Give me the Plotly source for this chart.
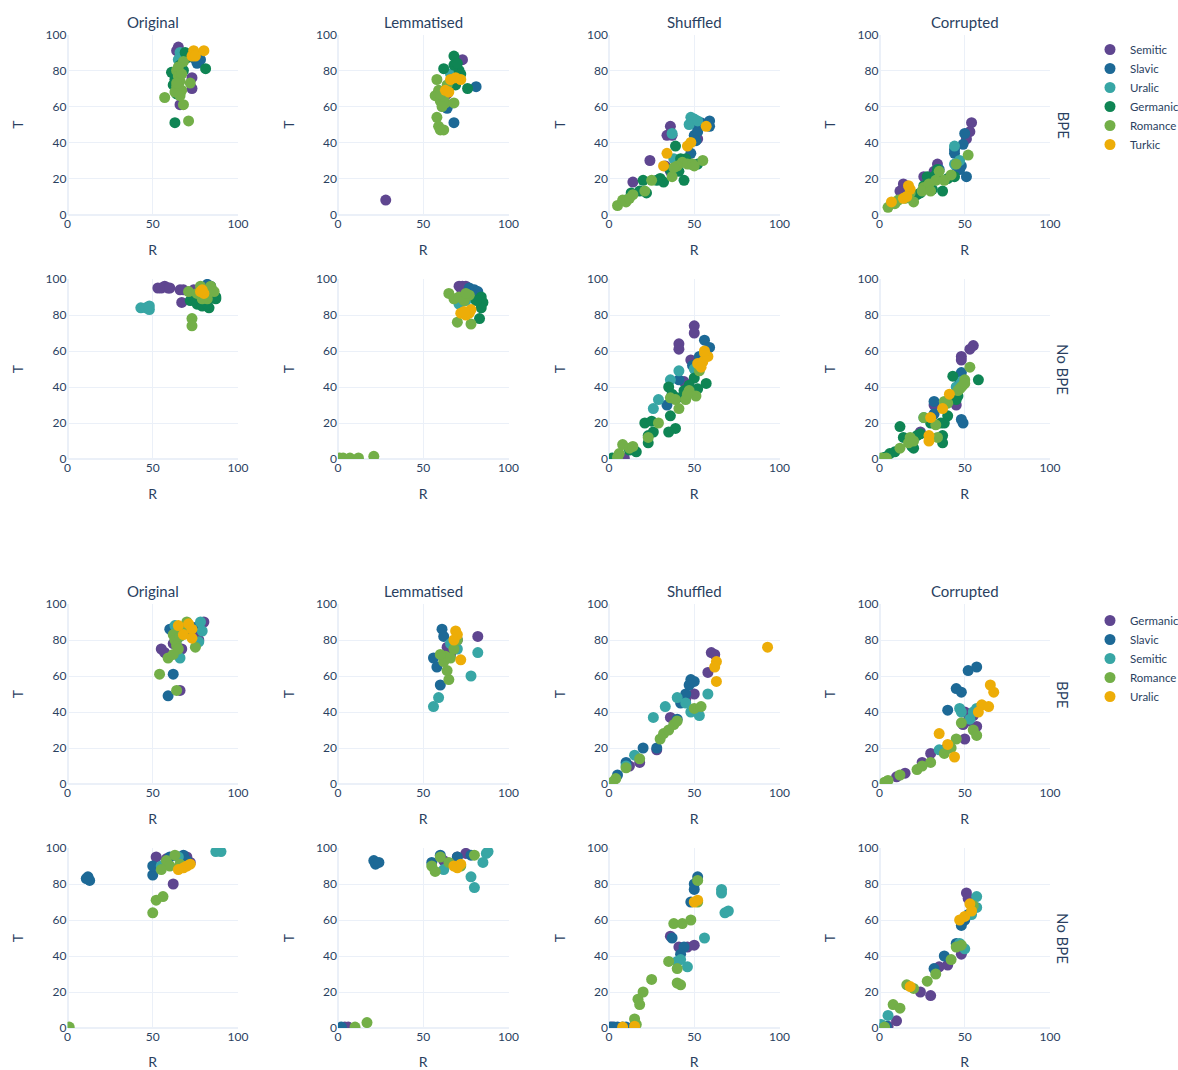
import plotly.graph_objects as go

# ---------------------------------------------------------------------------
# Data: (R, T) pairs per language family, one dict per facet panel.
# Top block (families: Semitic, Slavic, Uralic, Germanic, Romance, Turkic)
# ---------------------------------------------------------------------------
COLUMNS = ["Original", "Lemmatised", "Shuffled", "Corrupted"]
ROWS = ["BPE", "No BPE"]

TOP_FAMILIES = ["Semitic", "Slavic", "Uralic", "Germanic", "Romance", "Turkic"]
BOTTOM_FAMILIES = ["Germanic", "Slavic", "Semitic", "Romance", "Uralic"]

top_bpe_original = {
    "Semitic": [(65, 93), (64, 91), (73, 76), (73, 70), (66, 61)],
    "Slavic": [(76, 84), (78, 86), (74, 87), (77, 85)],
    "Uralic": [(66, 90), (67, 88), (65, 86)],
    "Germanic": [(69, 90), (81, 81), (61, 79), (63, 51), (64, 67), (70, 87), (62, 72), (66, 83), (63, 75), (68, 80), (65, 70)],
    "Romance": [(57, 65), (71, 52), (68, 61), (72, 73), (68, 85), (64, 80), (65, 77), (66, 74), (64, 71), (67, 69), (63, 68), (66, 66), (65, 82), (67, 78), (64, 73)],
    "Turkic": [(74, 91), (80, 91), (73, 88), (75, 88)],
}
top_bpe_lemmatised = {
    "Semitic": [(28, 8), (73, 86), (64, 67)],
    "Slavic": [(81, 71), (68, 51), (62, 60), (64, 59)],
    "Uralic": [(66, 78)],
    "Germanic": [(68, 88), (62, 81), (76, 70), (71, 80), (70, 76), (68, 83), (72, 78), (69, 72), (66, 74), (70, 84)],
    "Romance": [(58, 75), (58, 54), (59, 49), (60, 47), (62, 47), (57, 66), (59, 69), (60, 63), (62, 65), (63, 62), (68, 62), (64, 72), (61, 60), (60, 67)],
    "Turkic": [(66, 75), (69, 76), (72, 75), (63, 69), (65, 68)],
}
top_bpe_shuffled = {
    "Semitic": [(14, 18), (24, 30), (36, 49), (34, 44), (37, 44), (52, 42), (33, 27), (36, 24)],
    "Slavic": [(59, 52), (59, 49), (52, 48), (50, 44), (52, 46), (51, 41), (48, 34), (56, 50), (54, 51)],
    "Uralic": [(48, 54), (50, 53), (47, 50), (37, 45), (38, 31), (52, 52)],
    "Germanic": [(39, 38), (42, 31), (30, 20), (32, 18), (20, 19), (22, 12), (18, 13), (13, 12), (10, 8), (44, 19), (41, 24), (36, 25), (48, 28), (52, 28), (28, 19), (45, 31)],
    "Romance": [(5, 5), (8, 8), (10, 7), (12, 9), (14, 11), (21, 13), (25, 19), (37, 21), (43, 29), (46, 28), (49, 28), (55, 30), (40, 27), (38, 26), (50, 27)],
    "Turkic": [(34, 34), (32, 27), (46, 38), (48, 40), (57, 49)],
}
top_bpe_corrupted = {
    "Semitic": [(54, 51), (53, 46), (51, 42), (14, 17), (12, 13), (34, 28), (26, 21), (32, 24)],
    "Slavic": [(50, 45), (49, 39), (44, 36), (44, 34), (51, 21), (45, 27), (47, 25), (48, 27), (35, 25)],
    "Uralic": [(44, 38), (47, 30), (44, 28)],
    "Germanic": [(28, 21), (30, 18), (33, 22), (37, 13), (24, 12), (40, 20), (22, 11), (26, 16), (34, 25), (31, 14), (44, 21)],
    "Romance": [(5, 4), (9, 6), (11, 8), (18, 12), (20, 7), (26, 15), (29, 17), (33, 19), (35, 24), (38, 19), (42, 22), (45, 28), (52, 33), (25, 13), (30, 13), (15, 9)],
    "Turkic": [(7, 7), (17, 16), (18, 14), (14, 9), (16, 10)],
}
top_nobpe_original = {
    "Semitic": [(53, 95), (55, 95), (57, 96), (59, 95), (60, 95), (66, 94), (68, 94), (67, 87), (74, 94)],
    "Slavic": [(82, 97), (84, 96)],
    "Uralic": [(43, 84), (46, 84), (48, 83), (48, 85)],
    "Germanic": [(72, 88), (76, 86), (79, 85), (83, 84), (87, 90), (80, 90), (87, 89), (75, 89), (82, 86)],
    "Romance": [(71, 93), (73, 78), (73, 74), (76, 92), (78, 96), (84, 96), (86, 93), (80, 91), (82, 89), (79, 89)],
    "Turkic": [(78, 93), (80, 92), (79, 94)],
}
top_nobpe_lemmatised = {
    "Semitic": [(71, 96), (73, 96), (75, 96), (72, 95)],
    "Slavic": [(77, 95), (80, 94), (82, 93), (78, 92)],
    "Uralic": [(71, 86), (75, 88)],
    "Germanic": [(84, 90), (85, 87), (84, 84), (83, 78), (81, 88)],
    "Romance": [(1, 0.5), (3, 0.5), (7, 0.5), (12, 0.6), (21, 1.5), (70, 76), (78, 75), (65, 92), (68, 89), (71, 90), (77, 91), (74, 88), (75, 92)],
    "Turkic": [(72, 81), (75, 80), (78, 83), (77, 81), (74, 82)],
}
top_nobpe_shuffled = {
    "Semitic": [(50, 74), (50, 70), (41, 64), (41, 61), (48, 55), (44, 43), (9, 0.5)],
    "Slavic": [(56, 66), (59, 62), (41, 44), (34, 30), (49, 52), (53, 57)],
    "Uralic": [(41, 49), (36, 44), (29, 33), (26, 28), (50, 50)],
    "Germanic": [(35, 40), (37, 36), (57, 42), (52, 39), (50, 45), (47, 41), (40, 34), (36, 24), (39, 17), (35, 15), (21, 20), (25, 21), (26, 15), (23, 13), (23, 9), (16, 4), (2, 0.5), (12, 5), (44, 38)],
    "Romance": [(8, 8), (6, 3), (5, 1), (12, 6), (14, 7), (23, 12), (29, 20), (36, 34), (39, 33), (41, 28), (45, 33), (47, 38), (51, 35), (53, 49), (46, 36)],
    "Turkic": [(52, 53), (55, 54), (56, 59), (58, 57), (54, 51), (56, 60)],
}
top_nobpe_corrupted = {
    "Semitic": [(55, 63), (53, 61), (48, 57), (48, 55), (45, 30), (32, 30), (24, 15)],
    "Slavic": [(48, 48), (32, 32), (32, 25), (48, 22), (49, 20), (47, 42), (46, 40)],
    "Uralic": [(45, 40), (26, 23), (48, 43)],
    "Germanic": [(58, 44), (43, 46), (46, 35), (45, 33), (40, 24), (38, 20), (36, 20), (37, 13), (37, 9), (12, 18), (14, 12), (19, 7), (20, 6), (22, 13), (24, 14), (6, 3), (3, 1), (9, 4), (30, 20)],
    "Romance": [(53, 51), (50, 44), (49, 41), (48, 40), (46, 38), (47, 39), (40, 31), (38, 32), (33, 19), (34, 12), (26, 23), (18, 12), (17, 9), (20, 10), (12, 6), (4, 0.5), (1, 0.5), (50, 42)],
    "Turkic": [(41, 36), (37, 28), (30, 23), (29, 13), (29, 10)],
}

# Bottom block (families: Germanic, Slavic, Semitic, Romance, Uralic)
bot_bpe_original = {
    "Germanic": [(80, 90), (55, 75), (57, 73), (66, 52), (67, 75), (73, 82), (76, 84), (77, 80), (62, 78)],
    "Slavic": [(60, 86), (62, 61), (59, 49), (75, 87), (70, 84), (73, 87), (64, 80)],
    "Semitic": [(78, 90), (79, 85), (77, 79), (66, 70), (63, 88), (68, 86)],
    "Romance": [(54, 61), (59, 70), (64, 52), (75, 76), (70, 90), (62, 83), (63, 80), (64, 77), (65, 75), (62, 72), (66, 82), (67, 85)],
    "Uralic": [(65, 88), (71, 89), (73, 86), (68, 83), (73, 81)],
}
bot_bpe_lemmatised = {
    "Germanic": [(82, 82), (70, 80), (64, 76), (66, 72)],
    "Slavic": [(61, 86), (62, 82), (60, 55), (56, 70), (58, 65)],
    "Semitic": [(82, 73), (78, 60), (59, 48), (56, 43), (70, 75), (66, 78)],
    "Romance": [(65, 58), (64, 63), (62, 68), (68, 75), (70, 80), (63, 71), (66, 70), (60, 72)],
    "Uralic": [(69, 85), (72, 69), (70, 83), (68, 80)],
}
bot_bpe_shuffled = {
    "Germanic": [(60, 73), (62, 72), (58, 62), (50, 50), (45, 47), (36, 37), (28, 19), (18, 12), (12, 10), (52, 40)],
    "Slavic": [(48, 58), (47, 55), (45, 50), (50, 57), (42, 45), (40, 36), (20, 20), (10, 12), (5, 5), (28, 20)],
    "Semitic": [(26, 37), (33, 43), (40, 48), (45, 45), (48, 40), (53, 38), (58, 50), (15, 16), (10, 10)],
    "Romance": [(30, 25), (32, 28), (35, 30), (38, 33), (40, 35), (50, 42), (54, 43), (18, 14), (4, 3), (2, 1), (10, 9)],
    "Uralic": [(93, 76), (63, 68), (62, 65), (63, 57)],
}
bot_bpe_corrupted = {
    "Germanic": [(50, 40), (52, 35), (50, 25), (55, 38), (57, 32), (49, 33), (30, 17), (38, 19), (25, 12), (15, 6), (10, 4)],
    "Slavic": [(52, 63), (57, 65), (45, 53), (48, 51), (40, 41)],
    "Semitic": [(47, 42), (48, 40), (53, 36), (57, 42), (55, 40), (35, 19)],
    "Romance": [(55, 30), (57, 27), (45, 25), (38, 17), (30, 12), (22, 8), (12, 5), (5, 2), (3, 1), (48, 34), (42, 20), (25, 10)],
    "Uralic": [(65, 55), (67, 51), (60, 44), (64, 43), (35, 28), (44, 15), (40, 22), (58, 40)],
}
bot_nobpe_original = {
    "Germanic": [(62, 80), (70, 95), (58, 94), (72, 92), (52, 95)],
    "Slavic": [(12, 84), (13, 82), (11, 83), (50, 85), (50, 90), (60, 95), (68, 96), (70, 93)],
    "Semitic": [(87, 98), (90, 98), (55, 90), (65, 95)],
    "Romance": [(1, 0.5), (50, 64), (52, 71), (56, 73), (58, 93), (60, 90), (63, 96), (66, 91), (55, 88)],
    "Uralic": [(70, 90), (68, 89), (72, 91), (65, 88)],
}
bot_nobpe_lemmatised = {
    "Germanic": [(4, 0.5), (6, 0.5), (62, 93), (70, 95), (75, 97)],
    "Slavic": [(21, 93), (22, 91), (24, 92), (55, 92), (60, 96), (70, 95), (78, 96), (2, 0.5)],
    "Semitic": [(87, 97), (88, 98), (78, 84), (80, 78), (85, 92), (62, 88)],
    "Romance": [(17, 3), (10, 0.5), (55, 90), (60, 95), (57, 87), (65, 92), (72, 90), (80, 96)],
    "Uralic": [(68, 90), (70, 89), (72, 91)],
}
bot_nobpe_shuffled = {
    "Germanic": [(2, 0.5), (14, 0.5), (36, 51), (46, 45), (50, 46), (41, 45)],
    "Slavic": [(1, 0.5), (3, 0.5), (5, 0.5), (8, 0.5), (10, 0.5), (50, 80), (50, 77), (52, 84), (48, 70), (44, 45), (42, 41), (37, 50)],
    "Semitic": [(66, 77), (66, 75), (68, 64), (70, 65), (56, 50), (40, 37), (46, 34), (42, 38)],
    "Romance": [(17, 16), (18, 13), (20, 20), (25, 27), (35, 37), (38, 58), (43, 58), (48, 60), (52, 82), (40, 25), (42, 24), (52, 70), (40, 33), (15, 5), (16, 2)],
    "Uralic": [(52, 71), (50, 70), (8, 0.5), (15, 1)],
}
bot_nobpe_corrupted = {
    "Germanic": [(51, 75), (52, 72), (48, 41), (35, 34), (30, 18), (24, 20), (10, 4), (5, 1), (40, 35)],
    "Slavic": [(50, 60), (48, 57), (52, 63), (45, 47), (38, 40), (32, 33), (2, 0.5), (4, 1)],
    "Semitic": [(57, 73), (57, 67), (54, 63), (47, 47), (50, 44), (1, 2), (5, 7)],
    "Romance": [(48, 46), (45, 45), (8, 13), (12, 11), (16, 24), (20, 22), (28, 26), (33, 30), (42, 38), (55, 68), (3, 0.5)],
    "Uralic": [(50, 62), (53, 69), (47, 60), (54, 65), (18, 23)],
}

# ---------------------------------------------------------------------------
# Styling
# ---------------------------------------------------------------------------
PRISM = {
    "purple": "rgb(95, 70, 144)",
    "blue": "rgb(29, 105, 150)",
    "teal": "rgb(56, 166, 165)",
    "green": "rgb(15, 133, 84)",
    "lightgreen": "rgb(115, 175, 72)",
    "orange": "rgb(237, 173, 8)",
}
TOP_COLORS = {
    "Semitic": PRISM["purple"], "Slavic": PRISM["blue"], "Uralic": PRISM["teal"],
    "Germanic": PRISM["green"], "Romance": PRISM["lightgreen"], "Turkic": PRISM["orange"],
}
BOTTOM_COLORS = {
    "Germanic": PRISM["purple"], "Slavic": PRISM["blue"], "Semitic": PRISM["teal"],
    "Romance": PRISM["lightgreen"], "Uralic": PRISM["orange"],
}

FONT = "Lato, 'Open Sans', sans-serif"
TEXT = "#2a3f5f"
GRID = "#EBF0F8"

W, H = 1178, 1070
COL_LEFT = [67.5, 338, 609, 879.5]     # pixel x of R = 0 per column
PLOT_W = 170.5
ROW_TOP = [34.5, 279, 604, 848]        # pixel y of T = 100 per grid row
PLOT_H = 180

blocks = [
    (TOP_FAMILIES, TOP_COLORS, "legend",
     [[top_bpe_original, top_bpe_lemmatised, top_bpe_shuffled, top_bpe_corrupted],
      [top_nobpe_original, top_nobpe_lemmatised, top_nobpe_shuffled, top_nobpe_corrupted]]),
    (BOTTOM_FAMILIES, BOTTOM_COLORS, "legend2",
     [[bot_bpe_original, bot_bpe_lemmatised, bot_bpe_shuffled, bot_bpe_corrupted],
      [bot_nobpe_original, bot_nobpe_lemmatised, bot_nobpe_shuffled, bot_nobpe_corrupted]]),
]

fig = go.Figure()
layout_axes = {}
annotations = []

for b, (families, colors, legend_id, panels) in enumerate(blocks):
    for r in range(2):
        grid_row = b * 2 + r
        for c in range(4):
            n = grid_row * 4 + c + 1
            xname = "x" if n == 1 else f"x{n}"
            yname = "y" if n == 1 else f"y{n}"
            x0 = COL_LEFT[c] / W
            x1 = (COL_LEFT[c] + PLOT_W) / W
            y1 = 1 - ROW_TOP[grid_row] / H
            y0 = 1 - (ROW_TOP[grid_row] + PLOT_H) / H
            layout_axes["xaxis" if n == 1 else f"xaxis{n}"] = dict(
                domain=[x0, x1], anchor=yname, range=[0, 100], automargin=False,
                tickvals=[0, 50, 100], gridcolor=GRID, zerolinecolor=GRID,
                zerolinewidth=2, showline=False, ticks="",
                tickfont=dict(size=12, color=TEXT),
                title=dict(text="R", font=dict(size=14, color=TEXT)),
            )
            layout_axes["yaxis" if n == 1 else f"yaxis{n}"] = dict(
                domain=[y0, y1], anchor=xname, range=[0, 100], automargin=False,
                tickvals=[0, 20, 40, 60, 80, 100], gridcolor=GRID,
                zerolinecolor=GRID, zerolinewidth=2, showline=False, ticks="",
                tickfont=dict(size=12, color=TEXT),
                title=dict(text="T", font=dict(size=14, color=TEXT), standoff=18),
            )
            panel = panels[r][c]
            for fam in families:
                pts = panel.get(fam, [])
                fig.add_trace(go.Scatter(
                    x=[p[0] for p in pts], y=[p[1] for p in pts],
                    mode="markers", name=fam, legendgroup=f"{legend_id}-{fam}",
                    legend=legend_id, showlegend=(r == 0 and c == 0),
                    marker=dict(size=11, color=colors[fam]),
                    xaxis=xname, yaxis=yname,
                    hovertemplate="R=%{x}<br>T=%{y}<extra>" + fam + "</extra>",
                ))
            # column headers above the first row of each block
            if r == 0:
                annotations.append(dict(
                    text=COLUMNS[c], x=(x0 + x1) / 2, y=y1, xref="paper", yref="paper",
                    xanchor="center", yanchor="bottom", yshift=2, showarrow=False,
                    font=dict(size=15, color=TEXT)))
        # row label on the right of each grid row
        yc = 1 - (ROW_TOP[grid_row] + PLOT_H / 2) / H
        annotations.append(dict(
            text=ROWS[r], x=(COL_LEFT[3] + PLOT_W) / W, y=yc, xref="paper", yref="paper",
            xanchor="left", yanchor="middle", xshift=2, textangle=90, showarrow=False,
            font=dict(size=15, color=TEXT)))

fig.update_layout(
    width=W, height=H,
    margin=dict(l=0, r=0, t=0, b=0, autoexpand=False),
    template="plotly_white",
    font=dict(family=FONT, size=12, color=TEXT),
    annotations=annotations,
    legend=dict(x=1090 / W, y=1 - 35 / H, xanchor="left", yanchor="top",
                font=dict(size=11.5, color=TEXT), bgcolor="rgba(0,0,0,0)",
                tracegroupgap=0, itemwidth=30),
    legend2=dict(x=1090 / W, y=1 - 606 / H, xanchor="left", yanchor="top",
                 font=dict(size=11.5, color=TEXT), bgcolor="rgba(0,0,0,0)",
                 tracegroupgap=0, itemwidth=30),
    **layout_axes,
)

fig.write_html("out.html")
